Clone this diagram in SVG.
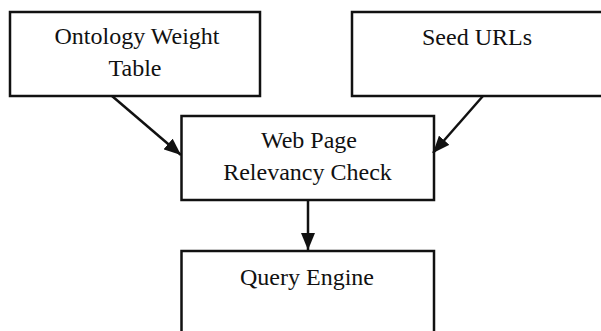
<svg xmlns="http://www.w3.org/2000/svg" width="601" height="331" viewBox="0 0 601 331">
<style>
.box{fill:#fff;stroke:#111;stroke-width:2.5}
.t{font-family:"Liberation Serif","Times New Roman",serif;font-size:24px;fill:#111;text-anchor:middle}
.c{stroke:#111;stroke-width:2.5;fill:none}
</style>
<defs>
<marker id="ah" markerUnits="userSpaceOnUse" markerWidth="18" markerHeight="14" refX="17" refY="7" orient="auto">
<path d="M0,0 L17,7 L0,14 Z" fill="#111"/>
</marker>
</defs>
<rect width="601" height="331" fill="#fff"/>
<g id="n1">
<rect class="box" x="10" y="12" width="250" height="84"/>
<text class="t" x="137" y="44">Ontology Weight</text>
<text class="t" x="135" y="76">Table</text>
</g>
<g id="n2">
<rect class="box" x="352" y="12" width="260" height="84"/>
<text class="t" x="477" y="45">Seed URLs</text>
</g>
<g id="n3">
<rect class="box" x="181.5" y="116" width="252.5" height="84"/>
<text class="t" x="309" y="148">Web Page</text>
<text class="t" x="307.5" y="180">Relevancy Check</text>
</g>
<g id="n4">
<rect class="box" x="181.5" y="251" width="252.5" height="100"/>
<text class="t" x="307" y="285">Query Engine</text>
</g>
<g id="connectors">
<line class="c" x1="112" y1="96" x2="181" y2="155" marker-end="url(#ah)"/>
<line class="c" x1="483" y1="96" x2="433" y2="153" marker-end="url(#ah)"/>
<line class="c" x1="308" y1="200" x2="308" y2="250" marker-end="url(#ah)"/>
</g>
</svg>
